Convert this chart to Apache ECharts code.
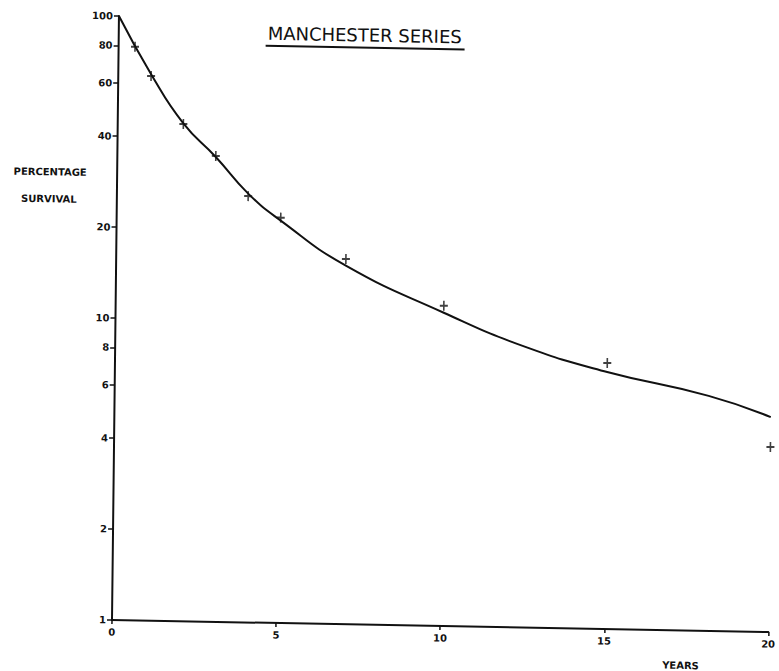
<!DOCTYPE html>
<html><head><meta charset="utf-8">
<script src="https://cdn.jsdelivr.net/npm/echarts@6/dist/echarts.min.js"></script>
<style>
html,body{margin:0;padding:0;background:#fff;overflow:hidden;width:779px;height:671px}
#chart{position:absolute;left:0;top:0;width:779px;height:671px;transform-origin:112px 620px;transform:matrix(0.99983,0.01833,-0.01152,0.99993,0,0)}
</style>
</head><body><div id="chart"></div>
<script>
const titleText = 'MANCHESTER SERIES';
const yAxisTitle = ['PERCENTAGE', 'SURVIVAL'];
const xAxisTitle = 'YEARS';
const yTickValues = [1, 2, 4, 6, 8, 10, 20, 40, 60, 80, 100];
const xTickValues = [0, 5, 10, 15, 20];
const observedYears = [0.5, 1, 2, 3, 4, 5, 7, 10, 15, 20];
const observedSurvival = [79.3, 63.6, 44.3, 34.9, 25.8, 22.0, 16.2, 11.5, 7.6, 4.1];
const curveYears = [0, 1, 2, 3, 4, 5, 7, 10, 12.5, 15, 18.1, 20];
const curveSurvival = [100, 64.5, 44.5, 34.6, 26.3, 21.5, 15.4, 10.9, 8.5, 7.1, 6.0, 5.15];

const ink = '#111';
const font = 'DejaVu Sans';
const chart = echarts.init(document.getElementById('chart'), null, {renderer: 'svg'});
const plus = 'path://M4,0 h2 v4 h4 v2 h-4 v4 h-2 v-4 h-4 v-2 h4 z';

chart.setOption({
  backgroundColor: '#fff',
  animation: false,
  grid: {left: 112, top: 16, right: 10.6, bottom: 51, outerBoundsMode: 'none', containLabel: false},
  xAxis: {
    type: 'value', min: 0, max: 20, interval: 5,
    axisLine: {show: true, lineStyle: {color: ink, width: 2}},
    axisTick: {show: true, length: 4, lineStyle: {color: ink, width: 1.5}, customValues: xTickValues},
    axisLabel: {color: ink, fontFamily: font, fontWeight: 'bold', fontSize: 10, margin: 7, customValues: xTickValues},
    splitLine: {show: false}
  },
  yAxis: {
    type: 'log', logBase: 10, min: 1, max: 100,
    axisLine: {show: true, lineStyle: {color: ink, width: 2}},
    axisTick: {show: true, length: 5, lineStyle: {color: ink, width: 1.5}, customValues: yTickValues},
    axisLabel: {color: ink, fontFamily: font, fontWeight: 'bold', fontSize: 10, margin: 6, customValues: yTickValues},
    splitLine: {show: false},
    minorTick: {show: false}
  },
  graphic: [
    {type: 'text', x: 358, y: 30.5, style: {text: titleText, font: 'normal 18px "DejaVu Sans"', fill: ink, align: 'center', verticalAlign: 'middle'}},
    {type: 'line', shape: {x1: 259, y1: 43, x2: 458, y2: 43}, style: {stroke: ink, lineWidth: 2}},
    {type: 'text', x: 45, y: 173, style: {text: yAxisTitle[0], font: 'bold 10px "DejaVu Sans"', fill: ink, align: 'center', verticalAlign: 'middle'}},
    {type: 'text', x: 44, y: 200, style: {text: yAxisTitle[1], font: 'bold 10px "DejaVu Sans"', fill: ink, align: 'center', verticalAlign: 'middle'}},
    {type: 'text', x: 681, y: 655, style: {text: xAxisTitle, font: 'bold 10px "DejaVu Sans"', fill: ink, align: 'center', verticalAlign: 'middle'}}
  ],
  series: [
    {
      type: 'line', name: 'fitted',
      data: curveYears.map((x, i) => [x, curveSurvival[i]]),
      smooth: 0.5, showSymbol: false, symbol: 'none',
      lineStyle: {color: ink, width: 2}, silent: true
    },
    {
      type: 'scatter', name: 'observed',
      data: observedYears.map((x, i) => [x, observedSurvival[i]]),
      symbol: plus, symbolSize: [8, 10],
      itemStyle: {color: ink}
    }
  ]
});
</script>
</body></html>
